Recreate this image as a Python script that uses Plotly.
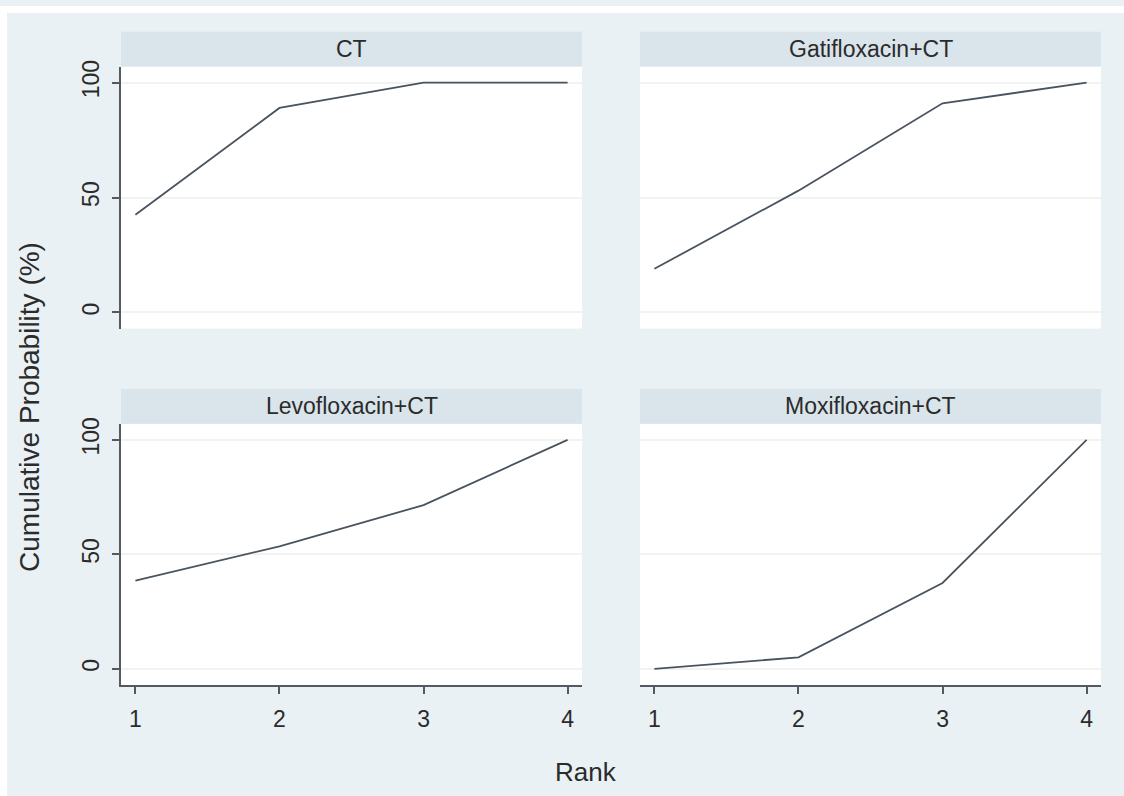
import plotly.graph_objects as go

# Cumulative ranking probabilities (%) by treatment
ranks = [1, 2, 3, 4]
treatments = ["CT", "Gatifloxacin+CT", "Levofloxacin+CT", "Moxifloxacin+CT"]
ct = [42.5, 89, 100, 100]
gatifloxacin_ct = [19, 53, 91, 100]
levofloxacin_ct = [38.5, 53.5, 71.5, 100]
moxifloxacin_ct = [0, 5, 37.5, 100]
series = [ct, gatifloxacin_ct, levofloxacin_ct, moxifloxacin_ct]

y_ticks = [0, 50, 100]
x_ticks = [1, 2, 3, 4]

W, H = 1124, 796
BG = "#e9f1f4"
STRIP = "#d9e4eb"
LINE = "#4a545e"
AXIS = "#555a60"
GRID = "#f2f2f0"
TXT = "#2b2b2b"
FONT = "Liberation Sans, Arial, sans-serif"

# panel boxes in pixels: (left, right, top, bottom)
cols = [(121, 582), (640, 1101)]
rows = [(61, 325), (421, 684)]
strip_h = 35


def px_x(v):
    return v / W


def px_y(v):
    return 1 - v / H


fig = go.Figure()
layout = dict(
    width=W, height=H,
    margin=dict(l=0, r=0, t=0, b=0),
    paper_bgcolor=BG, plot_bgcolor="white",
    showlegend=False,
    font=dict(family=FONT, color=TXT),
)
shapes = []
annotations = []

for i, (name, vals) in enumerate(zip(treatments, series)):
    r, c = divmod(i, 2)
    n = "" if i == 0 else str(i + 1)
    xl, xr = cols[c]
    yt, yb = rows[r]
    fig.add_trace(go.Scatter(
        x=ranks, y=vals, mode="lines",
        line=dict(color=LINE, width=1.8),
        xaxis="x" + n, yaxis="y" + n, hoverinfo="skip",
    ))
    bottom = r == 1
    left = c == 0
    layout["xaxis" + n] = dict(
        domain=[px_x(xl), px_x(xr)], anchor="y" + n,
        range=[0.9, 4.1], fixedrange=True,
        tickvals=x_ticks, showgrid=False, zeroline=False,
        showticklabels=bottom, showline=bottom,
        linecolor=AXIS, linewidth=2,
        ticks="outside" if bottom else "", ticklen=7, tickwidth=1.5,
        tickcolor=AXIS, ticklabelstandoff=6,
        tickfont=dict(size=23, color=TXT, family=FONT),
    )
    layout["yaxis" + n] = dict(
        domain=[px_y(yb), px_y(yt)], anchor="x" + n,
        range=[-7, 107], fixedrange=True,
        tickvals=y_ticks, showgrid=True, gridcolor=GRID, gridwidth=1.5,
        zeroline=False,
        showticklabels=left, showline=left,
        linecolor=AXIS, linewidth=2,
        ticks="outside" if left else "", ticklen=7, tickwidth=1.5,
        tickcolor=AXIS, tickangle=-90, ticklabelstandoff=4,
        tickfont=dict(size=23, color=TXT, family=FONT),
    )
    # panel strip with its title
    shapes.append(dict(
        type="rect", xref="paper", yref="paper",
        x0=px_x(xl), x1=px_x(xr), y0=px_y(yt), y1=px_y(yt - strip_h),
        fillcolor=STRIP, line=dict(width=0), layer="below",
    ))
    annotations.append(dict(
        text=name, xref="paper", yref="paper",
        x=px_x((xl + xr) / 2), y=px_y(yt - strip_h / 2),
        xanchor="center", yanchor="middle", showarrow=False,
        font=dict(size=23, color=TXT, family=FONT),
    ))

# thin white frame along the top and left edges
shapes.append(dict(type="rect", xref="paper", yref="paper", x0=0, x1=1,
                   y0=px_y(7), y1=1, fillcolor="white", line=dict(width=0)))
shapes.append(dict(type="rect", xref="paper", yref="paper", x0=0, x1=px_x(7),
                   y0=0, y1=1, fillcolor="white", line=dict(width=0)))

# shared axis titles
annotations.append(dict(
    text="Cumulative Probability (%)", xref="paper", yref="paper",
    x=px_x(30), y=px_y(404), xanchor="center", yanchor="middle",
    textangle=-90, showarrow=False,
    font=dict(size=28, color=TXT, family=FONT),
))
annotations.append(dict(
    text="Rank", xref="paper", yref="paper",
    x=px_x(586), y=px_y(772), xanchor="center", yanchor="middle",
    showarrow=False, font=dict(size=26, color=TXT, family=FONT),
))

layout["shapes"] = shapes
layout["annotations"] = annotations
fig.update_layout(**layout)
fig.write_html("out.html")
